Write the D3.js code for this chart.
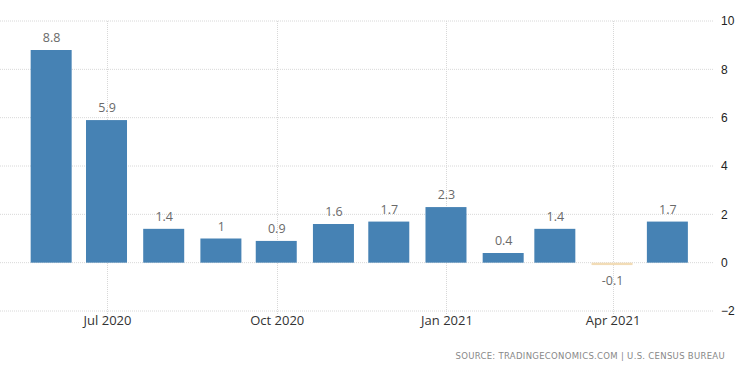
<!DOCTYPE html>
<html><head><meta charset="utf-8">
<script src="https://cdn.jsdelivr.net/npm/d3@7"></script>
<style>body{margin:0;background:#fff}svg{display:block}</style>
</head><body>
<svg id="c" width="750" height="373"></svg>
<script>
const months = ["2020-06-01","2020-07-01","2020-08-01","2020-09-01","2020-10-01","2020-11-01","2020-12-01","2021-01-01","2021-02-01","2021-03-01","2021-04-01","2021-05-01"];
const values = [8.8, 5.9, 1.4, 1.0, 0.9, 1.6, 1.7, 2.3, 0.4, 1.4, -0.1, 1.7];
const labels = ["8.8","5.9","1.4","1","0.9","1.6","1.7","2.3","0.4","1.4","-0.1","1.7"];
const xTickDates = ["2020-07-01","2020-10-01","2021-01-01","2021-04-01"];
const xTickLabels = ["Jul 2020","Oct 2020","Jan 2021","Apr 2021"];
const yTicks = [-2, 0, 2, 4, 6, 8, 10];
const source = "SOURCE: TRADINGECONOMICS.COM | U.S. CENSUS BUREAU";

const parse = d3.utcParse("%Y-%m-%d");
const svg = d3.select("#c");
const x = d3.scaleUtc().domain([parse("2020-05-04"), parse("2021-05-26")]).range([0, 714]);
const y = d3.scaleLinear().domain([-2, 10]).range([311, 21]);
const barW = 41;

// horizontal grid
svg.append("g").selectAll("line").data(yTicks).join("line")
  .attr("x1", 0).attr("x2", 714).attr("y1", d => y(d)).attr("y2", d => y(d))
  .attr("stroke", "#d8d8d8").attr("stroke-width", 1).attr("stroke-dasharray", "1,1");
// vertical grid
svg.append("g").selectAll("line").data(xTickDates).join("line")
  .attr("x1", d => Math.round(x(parse(d))) + 0.5).attr("x2", d => Math.round(x(parse(d))) + 0.5)
  .attr("y1", y(10)).attr("y2", y(-2) + 4)
  .attr("stroke", "#d8d8d8").attr("stroke-width", 1).attr("stroke-dasharray", "1,1");

// bars
svg.append("g").selectAll("rect").data(values).join("rect")
  .attr("x", (d, i) => x(parse(months[i])) - barW / 2 - 0.5)
  .attr("width", barW)
  .attr("y", d => d >= 0 ? y(d) : y(0))
  .attr("height", d => Math.max(1.5, Math.abs(y(d) - y(0))))
  .attr("fill", d => d >= 0 ? "#4682b4" : "#f2dcb6");

// value labels
svg.append("g").selectAll("text").data(values).join("text")
  .attr("x", (d, i) => x(parse(months[i])))
  .attr("y", d => d >= 0 ? y(d) - 8 : y(0) + 22)
  .attr("text-anchor", "middle")
  .attr("font-family", "'Open Sans', sans-serif").attr("font-size", 12.5)
  .attr("fill", "#6a6a6a")
  .text((d, i) => labels[i]);

// y axis labels (right)
const yAxis = d3.axisRight(y).tickValues(yTicks).tickSize(0).tickPadding(0).tickFormat(d3.format("d"));
const ga = svg.append("g").attr("transform", "translate(721,0)").call(yAxis);
ga.select(".domain").remove();
ga.selectAll("text").attr("font-family", "Arial, 'Liberation Sans', sans-serif").attr("font-size", 12).attr("fill", "#222");

// x axis labels
const xAxis = d3.axisBottom(x).tickValues(xTickDates.map(parse)).tickSize(0).tickPadding(0)
  .tickFormat((d, i) => xTickLabels[i]);
const gx = svg.append("g").attr("transform", "translate(0,316)").call(xAxis);
gx.select(".domain").remove();
gx.selectAll("text").attr("font-family", "'Open Sans', sans-serif").attr("font-size", 13).attr("fill", "#333");

// source
svg.append("text").attr("x", 725).attr("y", 359).attr("text-anchor", "end")
  .attr("font-family", "'DejaVu Sans', sans-serif").attr("font-size", 8.5).attr("fill", "#888")
  .attr("letter-spacing", 0.3)
  .text(source);
</script>
</body></html>
